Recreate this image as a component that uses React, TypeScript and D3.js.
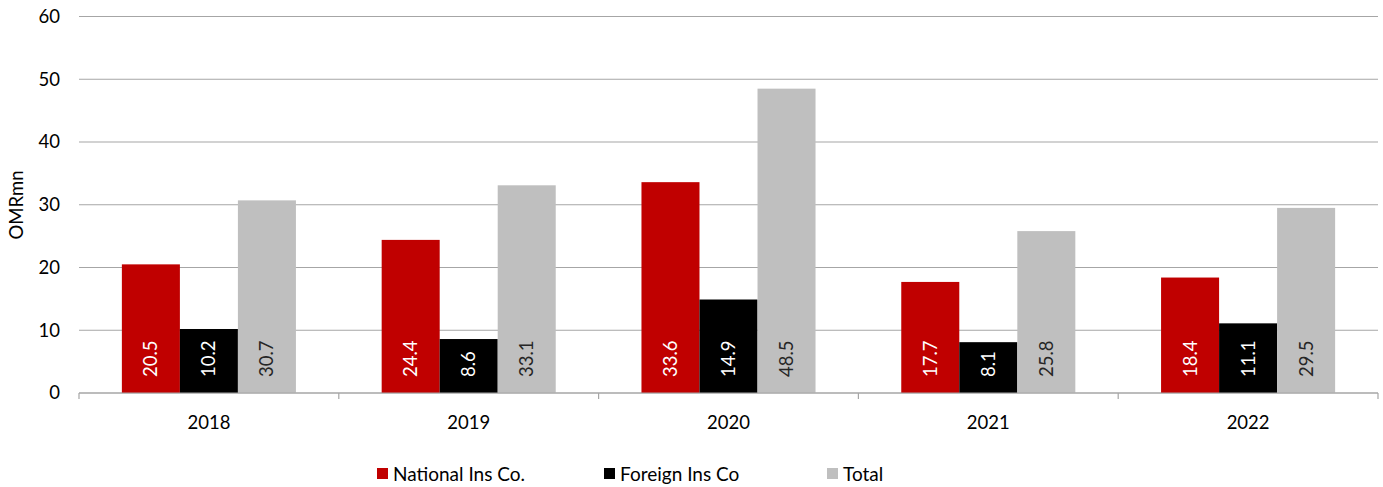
import React from "react";
import * as d3 from "d3";

const years = ["2018", "2019", "2020", "2021", "2022"];
const seriesNames = ["National Ins Co.", "Foreign Ins Co", "Total"];
const national = [20.5, 24.4, 33.6, 17.7, 18.4];
const foreign = [10.2, 8.6, 14.9, 8.1, 11.1];
const total = [30.7, 33.1, 48.5, 25.8, 29.5];
const yTicks = [0, 10, 20, 30, 40, 50, 60];

const colors = ["#C00000", "#000000", "#BFBFBF"];
const labelColors = ["#ffffff", "#ffffff", "#262626"];
const FONT = "Lato, 'Open Sans', sans-serif";
const FS = 18.5;

export default function App() {
  const W = 1383, H = 487;
  const left = 79, right = 1378, top = 16.5, bottom = 393;
  const x = d3.scaleBand<string>().domain(years).range([left, right]).paddingInner(0).paddingOuter(0);
  const inner = d3.scaleBand<string>().domain(seriesNames).range([0, x.bandwidth() * 0.67]);
  const off = (x.bandwidth() - x.bandwidth() * 0.67) / 2;
  const y = d3.scaleLinear().domain([0, 60]).range([bottom, top]);
  const data = [national, foreign, total];
  const legendX = [377, 604, 827];

  return (
    <svg width={W} height={H} style={{ position: "absolute", left: 0, top: 0, fontFamily: FONT }}>
      {yTicks.map((t) => (
        <g key={t}>
          <line x1={left} x2={right} y1={y(t)} y2={y(t)} stroke="#A6A6A6" strokeWidth={1.2} />
          <text x={60} y={y(t)} dy="0.35em" textAnchor="end" fontSize={FS} fill="#000">{t}</text>
        </g>
      ))}
      {years.map((yr, i) =>
        data.map((s, j) => {
          const bx = (x(yr) as number) + off + (inner(seriesNames[j]) as number);
          const bw = inner.bandwidth();
          const v = s[i];
          return (
            <g key={yr + j}>
              <rect x={bx} y={y(v)} width={bw} height={bottom - y(v)} fill={colors[j]} />
              <text
                transform={`translate(${bx + bw / 2},${bottom - 16}) rotate(-90)`}
                dy="0.35em"
                textAnchor="start"
                fontSize={FS}
                fill={labelColors[j]}
              >
                {v.toFixed(1)}
              </text>
            </g>
          );
        })
      )}
      <line x1={left} x2={right} y1={bottom} y2={bottom} stroke="#A6A6A6" strokeWidth={1.2} />
      {[...years.map((yr) => x(yr) as number), right].map((tx, i) => (
        <line key={i} x1={tx} x2={tx} y1={bottom} y2={bottom + 6} stroke="#A6A6A6" strokeWidth={1.2} />
      ))}
      {years.map((yr) => (
        <text key={yr} x={(x(yr) as number) + x.bandwidth() / 2} y={423} dy="0.35em" textAnchor="middle" fontSize={FS} fill="#000">
          {yr}
        </text>
      ))}
      <text transform={`translate(17,205) rotate(-90)`} dy="0.35em" textAnchor="middle" fontSize={FS} fill="#000">
        OMRmn
      </text>
      {seriesNames.map((n, j) => (
        <g key={n}>
          <rect x={legendX[j]} y={468} width={11} height={11} fill={colors[j]} />
          <text x={legendX[j] + 16} y={474} dy="0.35em" fontSize={19} fill="#000">{n}</text>
        </g>
      ))}
    </svg>
  );
}
